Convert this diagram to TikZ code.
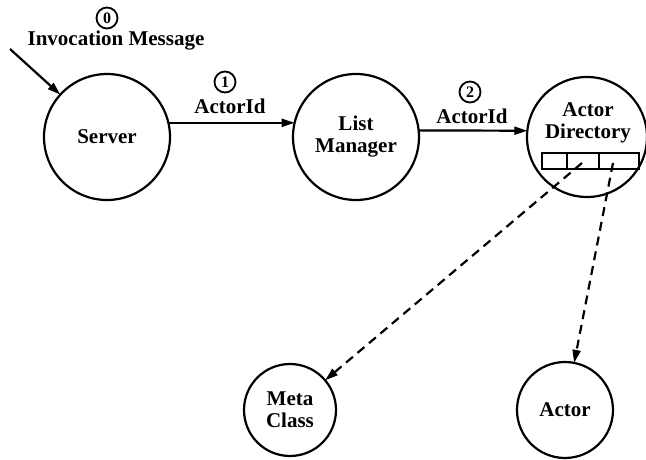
\documentclass[tikz,border=0pt]{standalone}
\usepackage{fontspec}
\setmainfont{Liberation Serif}
\usetikzlibrary{arrows.meta}
\tikzset{
  proc/.style={circle, draw, line width=2.2pt, inner sep=0pt, outer sep=0pt, align=center,
    font=\fontsize{21}{22}\selectfont\bfseries},
  lbl/.style={inner sep=0pt, font=\fontsize{21}{22}\selectfont\bfseries},
  num/.style={circle, draw, line width=1.8pt, inner sep=0pt, minimum size=21pt,
    font=\fontsize{16}{16}\selectfont\bfseries},
  arr/.style={line width=2.2pt, -{Triangle[length=13pt,width=8pt]}},
  darr/.style={line width=2.2pt, dash pattern=on 9pt off 6pt, -{Triangle[length=13pt,width=8pt]}},
  cell/.style={line width=1.5pt}
}
\begin{document}
\begin{tikzpicture}[x=1pt,y=-1pt]
\useasboundingbox (0,0) rectangle (646,460);
% nodes
\node[proc, minimum size=126pt] (server) at (107,137) {Server};
\node[proc, minimum size=126pt] (lm) at (356,137) {List\\Manager};
\node[proc, minimum size=120pt] (ad) at (587,137) {};
\node[lbl, align=center] (adtxt) at (588,123) {Actor\\Directory};
\node[proc, minimum size=92pt] (meta) at (290,410) {Meta\\Class};
\node[proc, minimum size=96pt] (actor) at (565,410) {Actor};
% directory cells
\draw[cell] (542,153) rectangle (639,169);
\draw[cell] (567,153) -- (567,169);
\draw[cell] (599,153) -- (599,169);
% labels
\node[num] (n0) at (107,18) {0};
\node[lbl] (inv) at (116,41) {Invocation Message};
\node[num] (n1) at (225,82) {1};
\node[lbl] (a1) at (230,106) {ActorId};
\node[num] (n2) at (470,92) {2};
\node[lbl] (a2) at (472,116) {ActorId};
% connectors
\coordinate (start) at (10,49);
\coordinate (c1) at (582,163);
\coordinate (c2) at (613,163);
\draw[arr] (start) -- (server);
\draw[arr] (server.13) -- (lm.167);
\draw[arr] (lm.6) -- (ad.174);
\draw[darr] (c1) -- (meta);
\draw[darr] (c2) -- (actor);
\end{tikzpicture}
\end{document}
